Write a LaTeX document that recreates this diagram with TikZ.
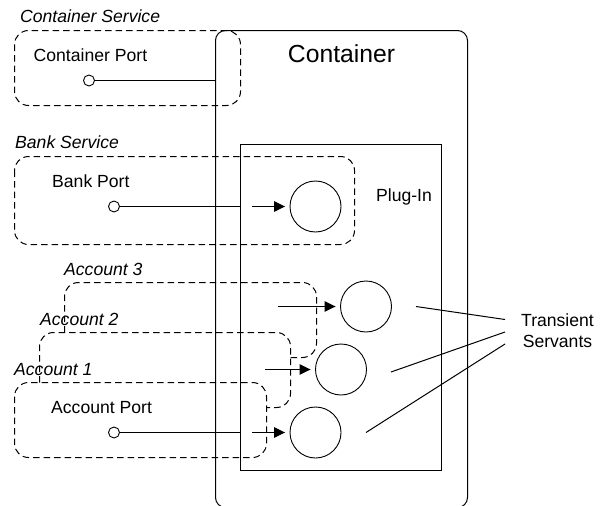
\documentclass[tikz,border=0pt]{standalone}
\usepackage{fontspec}
\setmainfont{Liberation Sans}
\usetikzlibrary{arrows.meta}
\tikzset{
  solidbox/.style={draw=black,line width=1pt},
  dashbox/.style={draw=black,line width=1pt,dash pattern=on 6.5pt off 4pt},
  servant/.style={circle,draw=black,line width=0.9pt,minimum size=51pt,inner sep=0pt},
  port/.style={circle,draw=black,line width=0.9pt,minimum size=11pt,inner sep=0pt,fill=white},
  wire/.style={draw=black,line width=1pt},
  flow/.style={draw=black,line width=1pt,shorten >=4.5pt,-{Triangle[length=11pt,width=10.5pt]}},
  lbl/.style={inner sep=0pt,font=\fontsize{17.6}{21}\selectfont,text=black},
  ital/.style={lbl,font=\fontsize{17.6}{21}\selectfont\itshape,anchor=base west},
}
\begin{document}
\begin{tikzpicture}[x=1pt,y=-1pt]
\useasboundingbox (0,0) rectangle (600,506);
% container and plug-in
\draw[solidbox,rounded corners=10pt] (215.5,30.5) rectangle (467.5,507.5);
\draw[solidbox] (240.5,144.5) rectangle (441.5,470.5);
% dashed regions
\draw[dashbox,rounded corners=14pt] (14.5,30.5) rectangle (240.5,105.5);
\draw[dashbox,rounded corners=14pt] (14.5,156.5) rectangle (354.5,244.5);
\draw[dashbox,rounded corners=14pt] (64.5,332.5) -- (64.5,282.5) -- (316.5,282.5) -- (316.5,357.5) -- (290.5,357.5);
\draw[dashbox,rounded corners=14pt] (39.5,382.5) -- (39.5,332.5) -- (290.5,332.5) -- (290.5,407.5) -- (266.5,407.5);
\draw[dashbox,rounded corners=14pt] (14.5,382.5) rectangle (266.5,457.5);
% nodes
\node[port] (pc) at (89,80.5) {};
\node[port] (pb) at (114,206.5) {};
\node[port] (pa) at (114,432.5) {};
\coordinate (ec) at (215.5,80.5);
\coordinate (eb) at (240.5,206.5);
\coordinate (ea) at (240.5,432.5);
\node[servant] (sb) at (315.5,206.5) {};
\node[servant] (s3) at (366,306.5) {};
\node[servant] (s2) at (341,369.5) {};
\node[servant] (s1) at (315.5,432.5) {};
\coordinate (ab) at (252,206.5);
\coordinate (a3) at (278,306.5);
\coordinate (a2) at (265,369.5);
\coordinate (a1) at (252,432.5);
\draw[wire] (pc) -- (ec);
\draw[wire] (pb) -- (eb);
\draw[wire] (pa) -- (ea);
\draw[flow] (ab) -- (sb);
\draw[flow] (a3) -- (s3);
\draw[flow] (a2) -- (s2);
\draw[flow] (a1) -- (s1);
\coordinate (t3a) at (416,306.5);
\coordinate (t2a) at (391,372);
\coordinate (t1a) at (366,432.5);
\coordinate (t3b) at (505,319.5);
\coordinate (t2b) at (505,332);
\coordinate (t1b) at (505,344);
\draw[wire] (t3a) -- (t3b);
\draw[wire] (t2a) -- (t2b);
\draw[wire] (t1a) -- (t1b);
% labels
\node[lbl,font=\fontsize{24.7}{30}\selectfont,anchor=base] (ctitle) at (341.5,62.5) {Container};
\node[lbl,anchor=base] (plug) at (404,201.5) {Plug-In};
\node[lbl,anchor=base west] (cport) at (33.5,61) {Container Port};
\node[lbl,anchor=base west] (bport) at (52,187) {Bank Port};
\node[lbl,anchor=base west] (aport) at (51,413) {Account Port};
\node[ital] (cs) at (20,22) {Container Service};
\node[ital] (bs) at (15,148) {Bank Service};
\node[ital] (a3l) at (64,275) {Account 3};
\node[ital] (a2l) at (40,325) {Account 2};
\node[ital] (a1l) at (14,375) {Account 1};
\node[lbl,anchor=base] (tr) at (557.5,326.5) {Transient};
\node[lbl,anchor=base] (sv) at (557.5,347) {Servants};
\end{tikzpicture}
\end{document}
